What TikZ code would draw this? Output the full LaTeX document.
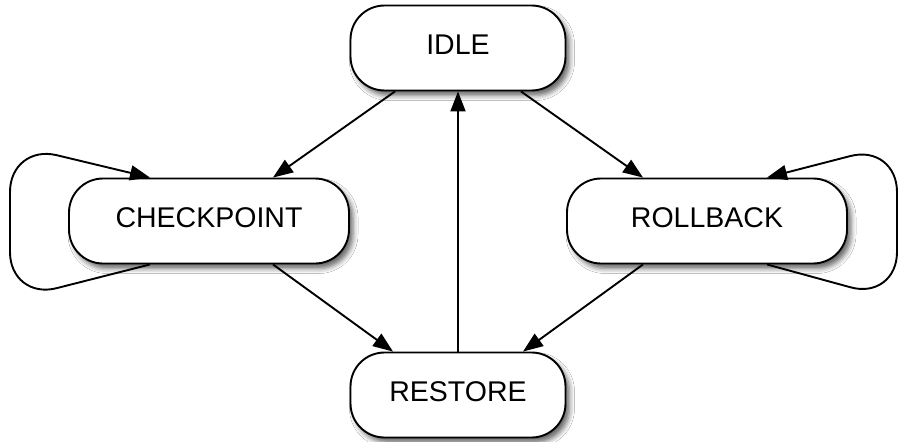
\documentclass[tikz,border=0pt]{standalone}
\usepackage{fontspec}
\setmainfont{Liberation Sans}
\usetikzlibrary{arrows.meta,shadows.blur}
\tikzset{
  statebox/.style={draw, fill=white, line width=1.9pt, rounded corners=34pt,
    minimum width=215pt, minimum height=85pt, inner sep=0pt, text depth=7pt,
    font=\fontsize{28.5}{34}\selectfont,
    blur shadow={shadow xshift=4pt, shadow yshift=-5pt, shadow blur radius=5pt, shadow opacity=60}},
  widebox/.style={statebox, minimum width=280pt},
  conn/.style={line width=1.9pt, -{Triangle[length=20pt,width=15pt]}},
}
\begin{document}
\begin{tikzpicture}[x=1pt,y=-1pt]
\useasboundingbox (0,0) rectangle (898,442);
\fill[white] (0,0) rectangle (898,442);
\node[statebox] (idle) at (458,48) {IDLE};
\node[widebox] (chk) at (209,221) {CHECKPOINT};
\node[widebox] (rb) at (707,221) {ROLLBACK};
\node[statebox] (rest) at (458,395) {RESTORE};
\draw[conn] ([xshift=-63pt]idle.south) -- ([xshift=64pt]chk.north);
\draw[conn] ([xshift=63pt]idle.south) -- ([xshift=-64pt]rb.north);
\draw[conn] (rest.north) -- (idle.south);
\draw[conn] ([xshift=64pt]chk.south) -- ([xshift=-65pt]rest.north);
\draw[conn] ([xshift=-64pt]rb.south) -- ([xshift=65pt]rest.north);
\draw[conn, rounded corners=48pt] ([xshift=-59pt]chk.south) -- (10,300) -- (10,144) -- ([xshift=-59pt]chk.north);
\draw[conn, rounded corners=48pt] ([xshift=60pt]rb.south) -- (897,300) -- (897,144) -- ([xshift=60pt]rb.north);
\end{tikzpicture}
\end{document}
